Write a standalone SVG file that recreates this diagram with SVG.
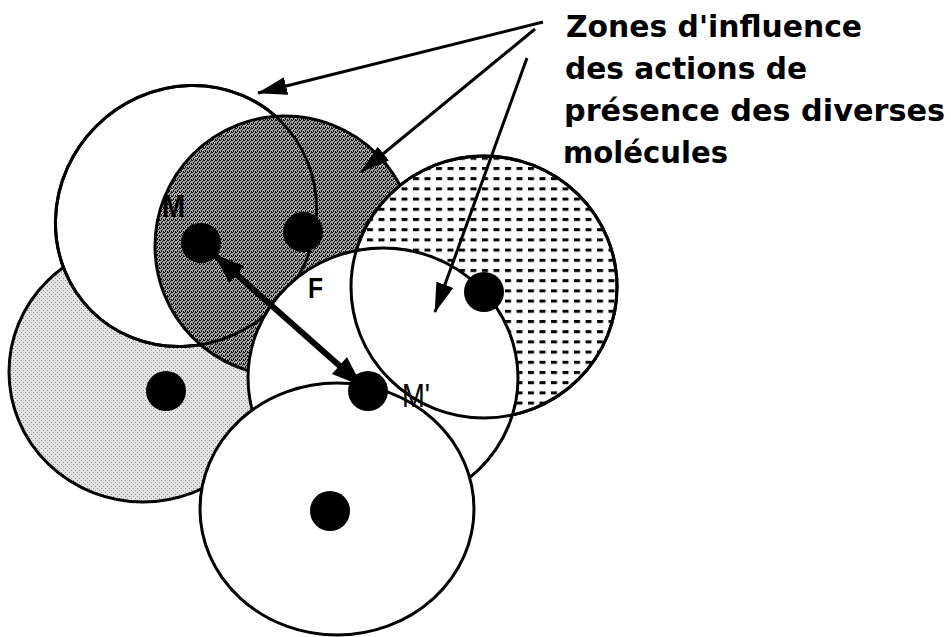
<svg xmlns="http://www.w3.org/2000/svg" width="951" height="637" viewBox="0 0 951 637">
  <style>
    .zone { stroke: #000; stroke-width: 3; }
    .outline { fill: none; stroke: #000; stroke-width: 3; }
    .white { fill: #fff; }
    .dark { fill: url(#darkDither); }
    .light { fill: url(#lightDither); }
    .dotted { fill: url(#dashes); }
    .mol { fill: #000; }
    .conn { stroke: #000; stroke-width: 3; fill: none; }
    .title { font-family: "DejaVu Sans", "Liberation Sans", sans-serif; font-weight: bold; font-size: 30px; fill: #000; }
    .lbl { font-family: "Liberation Sans", Arial, sans-serif; font-weight: bold; fill: #000; }
  </style>
  <defs>
    <pattern id="darkDither" patternUnits="userSpaceOnUse" width="4" height="4">
      <rect width="4" height="4" fill="#a8a8a8"/>
      <rect x="0" y="0" width="1" height="1" fill="#000"/>
      <rect x="2" y="1" width="1" height="1" fill="#000"/>
      <rect x="1" y="2" width="1" height="1" fill="#000"/>
      <rect x="3" y="3" width="1" height="1" fill="#000"/>
      <rect x="3" y="0" width="1" height="1" fill="#000"/>
      <rect x="1" y="3" width="1" height="1" fill="#000"/>
    </pattern>
    <pattern id="lightDither" patternUnits="userSpaceOnUse" width="4" height="4">
      <rect width="4" height="4" fill="#e4e4e4"/>
      <rect x="1" y="0" width="1" height="1" fill="#8a8a8a"/>
      <rect x="3" y="2" width="1" height="1" fill="#8a8a8a"/>
    </pattern>
    <pattern id="dashes" patternUnits="userSpaceOnUse" x="505" y="167" width="11.5" height="10.2">
      <rect width="11.5" height="10.2" fill="#fff"/>
      <rect x="0" y="0" width="6" height="3" fill="#000"/>
    </pattern>
    <marker id="arrow" markerUnits="userSpaceOnUse" viewBox="0 0 30 18" markerWidth="30" markerHeight="18" refX="29" refY="9" orient="auto">
      <path d="M0,0 L30,9 L0,18 z" fill="#000"/>
    </marker>
  </defs>

  <!-- zones (drawn back to front) -->
  <g id="zone-left-light">
    <ellipse class="zone light" cx="143" cy="372" rx="134" ry="130"/>
  </g>
  <g id="zone-top-left">
    <ellipse class="zone white" cx="186" cy="216" rx="134" ry="127" transform="rotate(-45 186 216)"/>
  </g>
  <g id="zone-dark">
    <circle class="zone dark" cx="285" cy="246" r="130"/>
    <ellipse class="outline" cx="186" cy="216" rx="134" ry="127" transform="rotate(-45 186 216)"/>
  </g>
  <g id="zone-dotted">
    <ellipse class="zone dotted" cx="484" cy="287" rx="133" ry="131"/>
  </g>
  <g id="zone-center">
    <ellipse class="zone white" cx="383" cy="378" rx="135" ry="130"/>
    <ellipse class="outline" cx="484" cy="287" rx="133" ry="131"/>
  </g>
  <g id="zone-bottom">
    <ellipse class="zone white" cx="337" cy="509" rx="137" ry="126"/>
  </g>

  <!-- molecules -->
  <g id="molecule-M">
    <circle class="mol" cx="201" cy="243" r="20"/>
    <text class="lbl" x="162" y="217" font-size="32" textLength="23" lengthAdjust="spacingAndGlyphs">M</text>
  </g>
  <g id="molecule-2">
    <circle class="mol" cx="303" cy="232" r="20"/>
  </g>
  <g id="molecule-3">
    <circle class="mol" cx="484" cy="292" r="20"/>
  </g>
  <g id="molecule-4">
    <circle class="mol" cx="166" cy="391" r="20"/>
  </g>
  <g id="molecule-Mprime">
    <circle class="mol" cx="368" cy="391" r="20"/>
    <text class="lbl" x="402" y="407" font-size="33" font-weight="normal" style="font-weight:normal" textLength="28" lengthAdjust="spacingAndGlyphs">M'</text>
  </g>
  <g id="molecule-6">
    <circle class="mol" cx="330" cy="511" r="20"/>
  </g>

  <!-- connectors -->
  <g id="connectors">
    <line x1="201" y1="243" x2="368" y2="391" stroke="#000" stroke-width="6"/>
    <polygon points="214,254 229,283 244,266" fill="#000"/>
    <polygon points="362,386 332,374 347,357" fill="#000"/>
    <line class="conn" x1="543" y1="22" x2="258" y2="93" marker-end="url(#arrow)"/>
    <line class="conn" x1="535" y1="29" x2="361" y2="172" marker-end="url(#arrow)"/>
    <line class="conn" x1="527" y1="58" x2="435" y2="312" marker-end="url(#arrow)"/>
    <text class="lbl" x="308" y="298" font-size="30" textLength="15" lengthAdjust="spacingAndGlyphs">F</text>
  </g>

  <g id="legend">
    <text class="title" x="566" y="37" textLength="296" lengthAdjust="spacingAndGlyphs">Zones d'influence</text>
    <text class="title" x="565" y="79" textLength="242" lengthAdjust="spacingAndGlyphs">des actions de</text>
    <text class="title" x="564" y="121" textLength="381" lengthAdjust="spacingAndGlyphs">présence des diverses</text>
    <text class="title" x="563" y="163" textLength="165" lengthAdjust="spacingAndGlyphs">molécules</text>
  </g>
</svg>
